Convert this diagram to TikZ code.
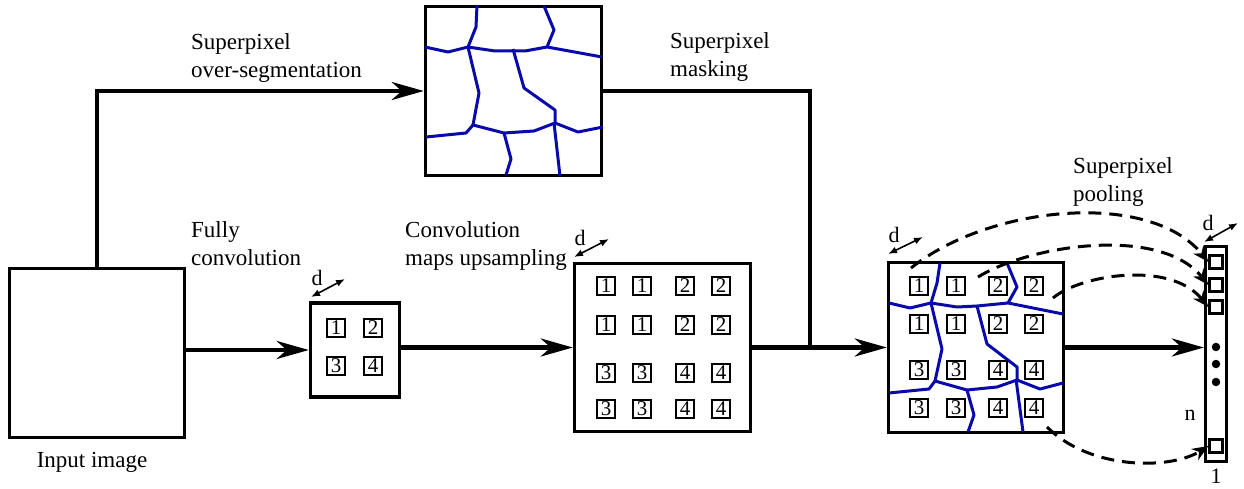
\documentclass[tikz,border=0pt]{standalone}
\usepackage{fontspec}
\setmainfont{Liberation Serif}
\usetikzlibrary{arrows.meta,calc}
\definecolor{spblue}{RGB}{10,10,170}
\begin{document}
\begin{tikzpicture}[x=1pt,y=-1pt,
  box/.style={draw,line width=3.5pt,inner sep=0pt,fill=white},
  sq/.style={draw,line width=2.4pt,inner sep=0pt,minimum size=18pt,font=\fontsize{21}{21}\selectfont,fill=white},
  vsq/.style={draw,line width=2.8pt,inner sep=0pt,minimum size=12.5pt,fill=white},
  lbl/.style={anchor=north west,inner sep=0pt,align=left,font=\fontsize{23}{28}\selectfont},
  sm/.style={inner sep=0pt,font=\fontsize{22}{22}\selectfont},
  big/.style={line width=4.5pt,-{Stealth[length=32pt,width=18pt,inset=10pt]}},
  conn/.style={line width=4.5pt},
  darr/.style={line width=1.6pt,{Latex[length=9pt,width=7pt]}-{Latex[length=9pt,width=7pt]}},
  dsh/.style={line width=3pt,dash pattern=on 13pt off 8pt,-{Stealth[length=16pt,width=13pt,inset=5pt]}},
  sp/.style={draw=spblue,line width=3pt,line join=round}
]
\useasboundingbox (0,0) rectangle (1244,489);

% main boxes
\node[box,minimum width=175pt,minimum height=169pt] (input) at (97,353) {};
\node[box,minimum width=89pt,minimum height=94pt] (conv) at (355,350) {};
\node[box,minimum width=176pt,minimum height=168pt] (up) at (662.5,347.5) {};
\node[box,minimum width=175pt,minimum height=170pt] (pool) at (976,347.5) {};
\node[box,minimum width=176pt,minimum height=169pt] (seg) at (513.5,91) {};
\node[box,line width=2.8pt,minimum width=21.5pt,minimum height=215.5pt] (vec) at (1216,354) {};

% superpixel map
\draw[sp] (477,5)--(476,27)--(468,47);
\draw[sp] (425,47)--(448,52)--(468,47)--(495,51)--(525,51)--(547,47)--(602,57);
\draw[sp] (544,6)--(554,30)--(547,47);
\draw[sp] (468,47)--(479,93)--(473,125);
\draw[sp] (513,49)--(524,88)--(555,110)--(555,123);
\draw[sp] (426,137)--(466,133)--(473,125)--(504,133)--(534,131)--(555,123)--(578,132)--(603,127);
\draw[sp] (504,133)--(511,159)--(506,175);
\draw[sp] (554,123)--(560,176);

% superpixel lines on pooled map
\draw[sp] (940,263)--(937,283)--(931,303);
\draw[sp] (889,303)--(910,308)--(931,303)--(957,307)--(977,306)--(1008,303)--(1063,314);
\draw[sp] (1007,263)--(1017,287)--(1008,303);
\draw[sp] (931,303)--(942,349)--(935,381);
\draw[sp] (977,306)--(987,344)--(1017,367)--(1017,380);
\draw[sp] (889,393)--(929,389)--(935,381)--(967,390)--(997,387)--(1017,380)--(1040,389)--(1063,383);
\draw[sp] (967,390)--(974,415)--(968,432);
\draw[sp] (1016,379)--(1023,432);

% small conv squares
\node[sq] (c1) at (336,328) {1};
\node[sq] (c2) at (373,328) {2};
\node[sq] (c3) at (336,366) {3};
\node[sq] (c4) at (373,366) {4};

% upsampled squares
\foreach \d [count=\i] in {1,1,2,2}{
  \node[sq] (ua\i) at ({\ifcase\i\or606\or642\or685\or721\fi},286) {\d};
  \node[sq] (ub\i) at ({\ifcase\i\or606\or642\or685\or721\fi},325) {\d};
}
\foreach \d [count=\i] in {3,3,4,4}{
  \node[sq] (uc\i) at ({\ifcase\i\or606\or642\or685\or721\fi},373) {\d};
  \node[sq] (ud\i) at ({\ifcase\i\or606\or642\or685\or721\fi},409) {\d};
}
% pooled squares
\foreach \d [count=\i] in {1,1,2,2}{
  \node[sq] (pa\i) at ({\ifcase\i\or919\or956\or998\or1034\fi},286) {\d};
  \node[sq] (pb\i) at ({\ifcase\i\or919\or956\or998\or1034\fi},324) {\d};
}
\foreach \d [count=\i] in {3,3,4,4}{
  \node[sq] (pc\i) at ({\ifcase\i\or919\or956\or998\or1034\fi},370) {\d};
  \node[sq] (pd\i) at ({\ifcase\i\or919\or956\or998\or1034\fi},408) {\d};
}

% vector entries
\node[vsq] (v1) at (1216,262) {};
\node[vsq] (v2) at (1216,285) {};
\node[vsq] (v3) at (1216,307) {};
\node[vsq] (vn) at (1216,446) {};
\foreach \yy [count=\k] in {347,364,382}{
  \node[circle,fill,inner sep=0pt,minimum size=8.5pt] (dot\k) at (1216,\yy) {};
}

% connectors
\draw[big] (input.north) |- (seg.west);
\draw[big] (input.east |- conv.west) -- (conv.west);
\draw[big] (conv.east |- up.west) -- (up.west);
\draw[big] (up.east) -- (pool.west);
\coordinate (j) at ($(up.east)!0.43!(pool.west)$);
\draw[conn] (seg.east) -| (j);
\draw[big] (pool.east) -- (vec.west |- pool.east);

% d arrows
\coordinate (dc0) at (311,297); \coordinate (dc1) at (345,279);
\draw[darr] (dc0) -- (dc1);
\coordinate (du0) at (574,257); \coordinate (du1) at (609,239);
\draw[darr] (du0) -- (du1);
\coordinate (dp0) at (888,254); \coordinate (dp1) at (923,237);
\draw[darr] (dp0) -- (dp1);
\coordinate (dv0) at (1204,242); \coordinate (dv1) at (1238,223);
\draw[darr] (dv0) -- (dv1);

% dashed pooling arrows
\coordinate (s1) at (911,268);
\coordinate (s2) at (978,277);
\coordinate (s3) at (1053,298);
\coordinate (s4) at (1047,427);
\draw[dsh] (s1) .. controls (990,205) and (1150,190) .. (v1.west);
\draw[dsh] (s2) .. controls (1030,245) and (1160,225) .. (v2.west);
\draw[dsh] (s3) .. controls (1080,275) and (1170,260) .. (v3.west);
\draw[dsh] (s4) .. controls (1090,470) and (1170,470) .. (vn.west);

% labels
\node[lbl] (l1) at (191,33) {Superpixel\\over-segmentation};
\node[lbl] (l2) at (670,32) {Superpixel\\masking};
\node[lbl] (l3) at (191,221) {Fully\\convolution};
\node[lbl] (l4) at (405,221) {Convolution\\maps upsampling};
\node[lbl] (l5) at (1073,157) {Superpixel\\pooling};
\node[lbl,anchor=north] (l6) at (92,452) {Input image};
\node[sm] (dl1) at (317,278) {d};
\node[sm] (dl2) at (580,238) {d};
\node[sm] (dl3) at (894,235) {d};
\node[sm] (dl4) at (1208,223) {d};
\node[sm] (nl) at (1190,415) {n};
\node[sm] (onel) at (1216,476) {1};
\end{tikzpicture}
\end{document}
